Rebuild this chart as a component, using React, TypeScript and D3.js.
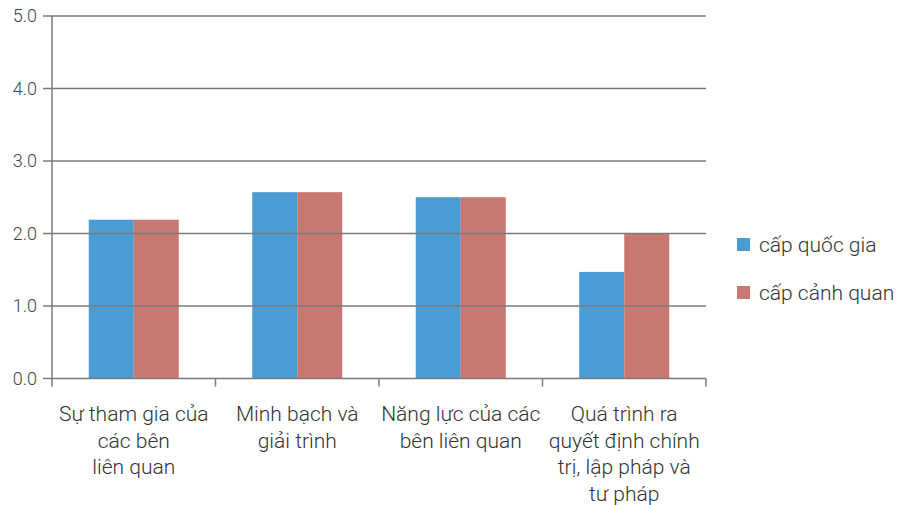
import * as d3 from "d3";

const CATEGORIES = [
  ["Sự tham gia của", "các bên", "liên quan"],
  ["Minh bạch và", "giải trình"],
  ["Năng lực của các", "bên liên quan"],
  ["Quá trình ra", "quyết định chính", "trị, lập pháp và", "tư pháp"],
];
const SERIES = ["cấp quốc gia", "cấp cảnh quan"];
const NATIONAL = [2.19, 2.57, 2.5, 1.47];
const LANDSCAPE = [2.19, 2.57, 2.5, 2.0];
const Y_TICKS = [0, 1, 2, 3, 4, 5];

const COLORS = ["#4b9bd4", "#c87870"];
const FONT = "Roboto, 'Noto Sans', sans-serif";

export default function App() {
  const width = 906;
  const height = 505;
  const left = 52;
  const right = 706;
  const top = 16;
  const bottom = 378.5;

  const ids = CATEGORIES.map((_, i) => String(i));
  const x = d3.scaleBand().domain(ids).range([left, right]).paddingInner(0).paddingOuter(0);
  const y = d3.scaleLinear().domain([0, 5]).range([bottom, top]);
  const barW = 45;
  const values = [NATIONAL, LANDSCAPE];

  return (
    <svg
      width={width}
      height={height}
      style={{ position: "absolute", left: 0, top: 0, fontFamily: FONT }}
    >
      <rect width={width} height={height} fill="#fff" />
      {/* bars */}
      {ids.map((id, i) => {
        const cx = (x(id) ?? 0) + x.bandwidth() / 2;
        return values.map((vals, s) => (
          <rect
            key={`${id}-${s}`}
            x={cx - barW + s * barW}
            y={y(vals[i])}
            width={barW}
            height={bottom - y(vals[i])}
            fill={COLORS[s]}
          />
        ));
      })}
      {/* gridlines + y ticks */}
      {Y_TICKS.map((t) => (
        <g key={t}>
          {t > 0 && (
            <line x1={left} x2={right} y1={y(t)} y2={y(t)} stroke="#7a7a7a" strokeWidth={1.5} />
          )}
          <line x1={43} x2={left} y1={y(t)} y2={y(t)} stroke="#7a7a7a" strokeWidth={1.5} />
          <text
            x={37}
            y={y(t)}
            dy="0.35em"
            textAnchor="end"
            fontSize={18}
            fontWeight={300}
            fill="#444"
          >
            {t.toFixed(1)}
          </text>
        </g>
      ))}
      {/* axes */}
      <line x1={left} x2={left} y1={top} y2={bottom + 8} stroke="#7a7a7a" strokeWidth={1.5} />
      <line x1={left} x2={right} y1={bottom} y2={bottom} stroke="#7a7a7a" strokeWidth={1.5} />
      {ids.map((id) => (
        <line
          key={`t${id}`}
          x1={(x(id) ?? 0) + x.bandwidth()}
          x2={(x(id) ?? 0) + x.bandwidth()}
          y1={bottom}
          y2={bottom + 8}
          stroke="#7a7a7a"
          strokeWidth={1.5}
        />
      ))}
      {/* category labels */}
      {CATEGORIES.map((lines, i) => (
        <text
          key={`c${i}`}
          x={(x(String(i)) ?? 0) + x.bandwidth() / 2}
          y={421}
          textAnchor="middle"
          fontSize={21}
          fontWeight={300}
          fill="#333"
        >
          {lines.map((l, j) => (
            <tspan key={j} x={(x(String(i)) ?? 0) + x.bandwidth() / 2} dy={j === 0 ? 0 : 26.5}>
              {l}
            </tspan>
          ))}
        </text>
      ))}
      {/* legend */}
      {SERIES.map((name, s) => (
        <g key={name} transform={`translate(737,${238 + s * 48})`}>
          <rect width={13} height={13} fill={COLORS[s]} />
          <text x={22} y={14} fontSize={21} fontWeight={300} fill="#333">
            {name}
          </text>
        </g>
      ))}
    </svg>
  );
}
